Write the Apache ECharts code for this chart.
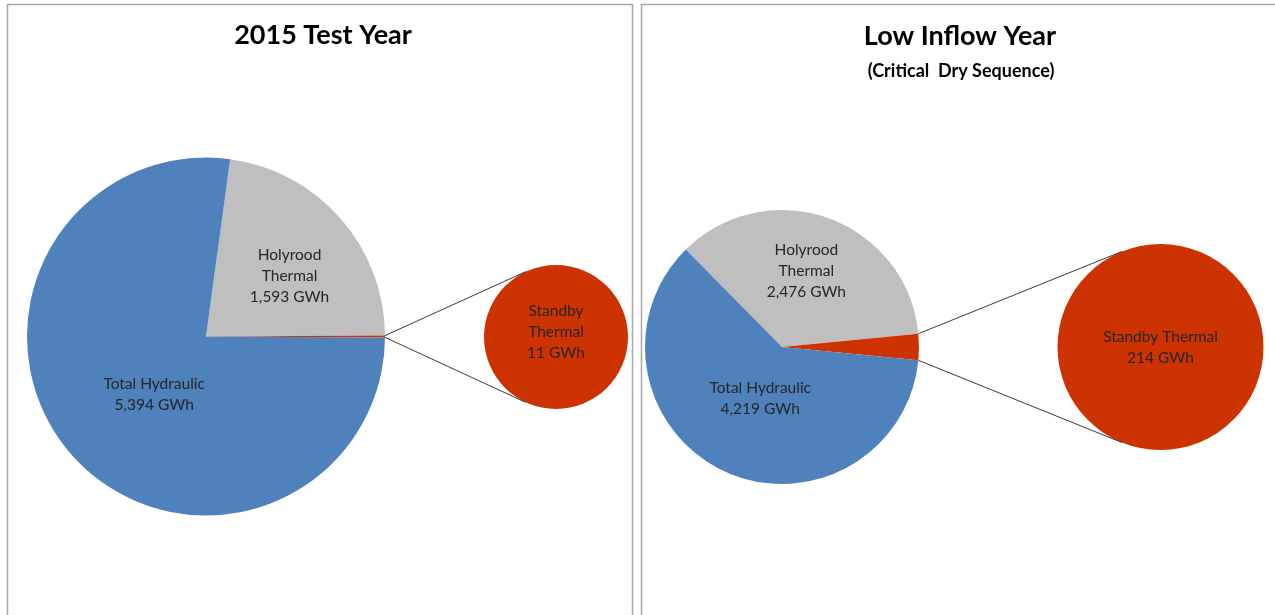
<!DOCTYPE html>
<html>
<head>
<meta charset="utf-8">
<script src="https://cdn.jsdelivr.net/npm/echarts@6/dist/echarts.min.js"></script>
<style>
html,body{margin:0;padding:0;background:#fff;}
#main{width:1275px;height:615px;}
</style>
</head>
<body>
<div id="main"></div>
<script>
// ---- Data ----
const categories = ['Holyrood Thermal', 'Standby Thermal', 'Total Hydraulic'];
const testYearValues = [1593, 11, 5394];      // GWh, 2015 Test Year
const lowInflowValues = [2476, 214, 4219];    // GWh, Low Inflow Year
const testYearLabelNames = ['Holyrood\nThermal', 'Standby\nThermal', 'Total Hydraulic'];
const lowInflowLabelNames = ['Holyrood\nThermal', 'Standby Thermal', 'Total Hydraulic'];
const titles = ['2015 Test Year', 'Low Inflow Year'];
const subtitle = '(Critical  Dry Sequence)';

// ---- Style / layout ----
const COLORS = { 'Holyrood Thermal': '#BFBFBF', 'Standby Thermal': '#CC3300', 'Total Hydraulic': '#4F81BD' };
const FONT = 'Lato, "Open Sans", sans-serif';
const LABEL_SIZE = 15.5;
const L_MAIN = { c: [206, 336.5], r: 179 };
const L_SEC = { c: [556, 337], r: 72 };
const R_MAIN = { c: [782, 347], r: 137 };
const R_SEC = { c: [1160.5, 347], r: 103 };

function fmt(v) { return v.toString().replace(/\B(?=(\d{3})+(?!\d))/g, ','); }
function sum(a) { return a.reduce((s, v) => s + v, 0); }

// start angle so that the standby slice is centred on the 3 o'clock direction
function startAngleFor(vals) {
  const t = sum(vals);
  return (vals[0] + vals[1] / 2) / t * 360;
}

function mainPie(vals, names, lay, offsets) {
  return {
    type: 'pie',
    center: lay.c,
    radius: lay.r,
    startAngle: startAngleFor(vals),
    clockwise: true,
    silent: true,
    animation: false,
    avoidLabelOverlap: false,
    itemStyle: { borderWidth: 0 },
    label: {
      show: true, position: 'inside', color: '#262626',
      fontFamily: FONT, fontSize: LABEL_SIZE, lineHeight: 21,
      formatter: p => names[p.dataIndex] + '\n' + fmt(p.value) + ' GWh'
    },
    labelLine: { show: false },
    labelLayout: p => offsets[p.dataIndex] || {},
    data: categories.map((c, i) => ({
      name: c, value: vals[i],
      itemStyle: { color: COLORS[c] },
      label: { show: i !== 1 }
    }))
  };
}

function secPie(vals, names, lay, dy) {
  return {
    type: 'pie',
    center: lay.c,
    radius: lay.r,
    silent: true,
    animation: false,
    itemStyle: { borderWidth: 0 },
    label: {
      show: true, position: 'center', color: '#262626',
      fontFamily: FONT, fontSize: LABEL_SIZE, lineHeight: 21,
      formatter: p => names[1] + '\n' + fmt(p.value) + ' GWh'
    },
    labelLayout: { dy: dy },
    labelLine: { show: false },
    data: [{ name: categories[1], value: vals[1], itemStyle: { color: COLORS[categories[1]] } }]
  };
}

// connector lines: from the outer edge of the small slice to tangent points of the secondary circle
function connectors(vals, main, sec) {
  const t = sum(vals);
  const a0 = startAngleFor(vals) - vals[0] / t * 360;     // upper edge of standby slice
  const a1 = a0 - vals[1] / t * 360;                      // lower edge
  const rad = Math.PI / 180;
  const pt = a => [main.c[0] + main.r * Math.cos(a * rad), main.c[1] - main.r * Math.sin(a * rad)];
  function tangent(P, upper) {
    const dx = P[0] - sec.c[0], dy = -(P[1] - sec.c[1]);
    const d = Math.hypot(dx, dy);
    const th = Math.atan2(dy, dx);
    const al = Math.acos(sec.r / d);
    const a = upper ? th - al : th + al;
    return [sec.c[0] + sec.r * Math.cos(a), sec.c[1] - sec.r * Math.sin(a)];
  }
  const P0 = pt(a0), P1 = pt(a1);
  const T0 = tangent(P0, true), T1 = tangent(P1, false);
  const st = { stroke: '#3a3a3a', lineWidth: 1 };
  return [
    { type: 'line', shape: { x1: P0[0], y1: P0[1], x2: T0[0], y2: T0[1] }, style: st, z: 10, silent: true },
    { type: 'line', shape: { x1: P1[0], y1: P1[1], x2: T1[0], y2: T1[1] }, style: st, z: 10, silent: true }
  ];
}

const chart = echarts.init(document.getElementById('main'), null, { renderer: 'canvas' });
const borderStyle = { fill: 'none', stroke: '#a6a6a6', lineWidth: 1.5 };
chart.setOption({
  backgroundColor: '#ffffff',
  animation: false,
  title: [
    { text: titles[0], left: 318, top: 17, textAlign: 'center',
      textStyle: { fontFamily: FONT, fontSize: 27, fontWeight: 'bold', color: '#000' } },
    { text: titles[1], left: 955, top: 18, textAlign: 'center',
      textStyle: { fontFamily: FONT, fontSize: 27, fontWeight: 'bold', color: '#000' } },
    { text: subtitle, left: 956, top: 57, textAlign: 'center',
      textStyle: { fontFamily: FONT, fontSize: 18, fontWeight: 'bold', color: '#000' } }
  ],
  graphic: [
    { type: 'rect', shape: { x: 7.5, y: 4.5, width: 625, height: 620 }, style: borderStyle, silent: true },
    { type: 'rect', shape: { x: 641.5, y: 4.5, width: 650, height: 620 }, style: borderStyle, silent: true }
  ].concat(connectors(testYearValues, L_MAIN, L_SEC))
   .concat(connectors(lowInflowValues, R_MAIN, R_SEC)),
  series: [
    mainPie(testYearValues, testYearLabelNames, L_MAIN, { 0: { dx: 14, dy: 0 }, 2: { dx: 18, dy: -3 } }),
    secPie(testYearValues, testYearLabelNames, L_SEC, -5),
    mainPie(lowInflowValues, lowInflowLabelNames, R_MAIN, { 0: { dx: 0, dy: -9 }, 2: { dx: 9, dy: -13 } }),
    secPie(lowInflowValues, lowInflowLabelNames, R_SEC, 0)
  ]
});
</script>
</body>
</html>
